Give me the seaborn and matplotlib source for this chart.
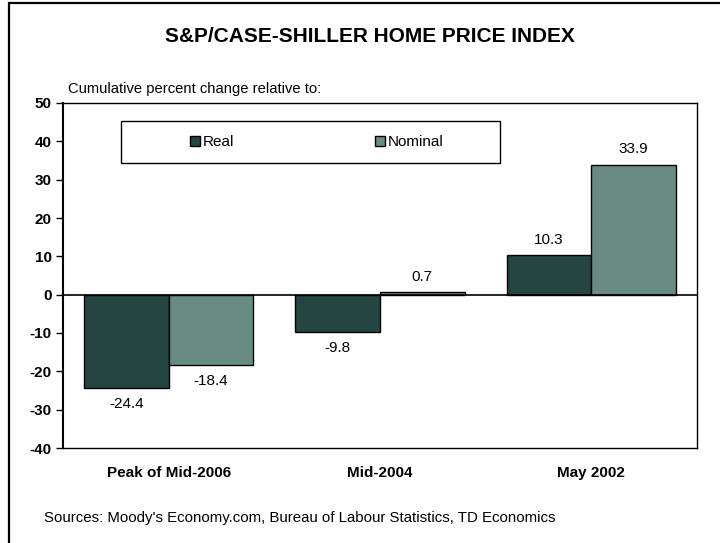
import matplotlib
matplotlib.use("Agg")
import matplotlib.pyplot as plt
import seaborn as sns
import pandas as pd
from matplotlib.patches import Rectangle, Patch

categories = ["Peak of Mid-2006", "Mid-2004", "May 2002"]
real = [-24.4, -9.8, 10.3]
nominal = [-18.4, 0.7, 33.9]
series_names = ["Real", "Nominal"]
colors = ["#244542", "#6a8b83"]
yticks = [-40, -30, -20, -10, 0, 10, 20, 30, 40, 50]

df = pd.DataFrame({
    "Category": categories * 2,
    "Series": [series_names[0]] * 3 + [series_names[1]] * 3,
    "Value": real + nominal,
})

sns.set_style("white")
plt.rcParams["font.family"] = ["Liberation Sans", "DejaVu Sans"]
plt.rcParams["text.color"] = "black"
plt.rcParams["xtick.color"] = "black"
plt.rcParams["ytick.color"] = "black"
plt.rcParams["axes.labelcolor"] = "black"

fig = plt.figure(figsize=(7.2, 5.43), dpi=100)
ax = fig.add_axes([63 / 720, 1 - 448 / 543, 634 / 720, 345 / 543])

sns.barplot(data=df, x="Category", y="Value", hue="Series", order=categories,
            hue_order=series_names, palette=colors, edgecolor="black",
            linewidth=1, width=0.8, saturation=1, ax=ax, legend=False)

for cont in ax.containers:
    ax.bar_label(cont, fmt="%.1f", padding=6, fontsize=11, color="black")

ax.set_ylim(-40, 50)
ax.set_xlim(-0.5, 2.5)
ax.set_yticks(yticks)
ax.set_yticklabels([str(t) for t in yticks], fontweight="bold", fontsize=11)
ax.set_xticklabels(categories, fontweight="bold", fontsize=11)
ax.tick_params(axis="x", length=0, pad=13)
ax.tick_params(axis="y", length=5, width=1, direction="out", left=True, pad=3)
ax.set_xlabel("")
ax.set_ylabel("")
ax.axhline(0, color="black", lw=1.2, zorder=5)
for s in ax.spines.values():
    s.set_visible(True)
    s.set_color("black")
    s.set_linewidth(1)
ax.spines["left"].set_linewidth(1.5)

# outer frame (left/top visible)
fig.patches.append(Rectangle((9 / 720, -0.1), 1.2, 1 - 3 / 543 + 0.1,
                             transform=fig.transFigure, fill=False,
                             edgecolor="black", lw=1.6))

fig.text(370 / 720, 1 - 36 / 543, "S&P/CASE-SHILLER HOME PRICE INDEX",
         ha="center", va="center", fontsize=15, fontweight="bold")
fig.text(68 / 720, 1 - 89 / 543, "Cumulative percent change relative to:",
         ha="left", va="center", fontsize=10.6)
fig.text(44 / 720, 1 - 518 / 543,
         "Sources: Moody's Economy.com, Bureau of Labour Statistics, TD Economics",
         ha="left", va="center", fontsize=10.8)

# legend box
fig.patches.append(Rectangle((121 / 720, 1 - 163 / 543), 379 / 720, 42 / 543,
                             transform=fig.transFigure, fill=True,
                             facecolor="white", edgecolor="black", lw=1,
                             zorder=10))
handles = [Patch(facecolor=c, edgecolor="black", lw=1) for c in colors]
leg = fig.legend(handles, series_names, loc="center",
                 bbox_to_anchor=(317 / 720, 1 - 142 / 543), ncol=2,
                 frameon=False, fontsize=11, handlelength=0.65,
                 handleheight=0.65, handletextpad=0.2, columnspacing=9.2)
leg.set_zorder(11)

fig.savefig("out.png", dpi=100)
